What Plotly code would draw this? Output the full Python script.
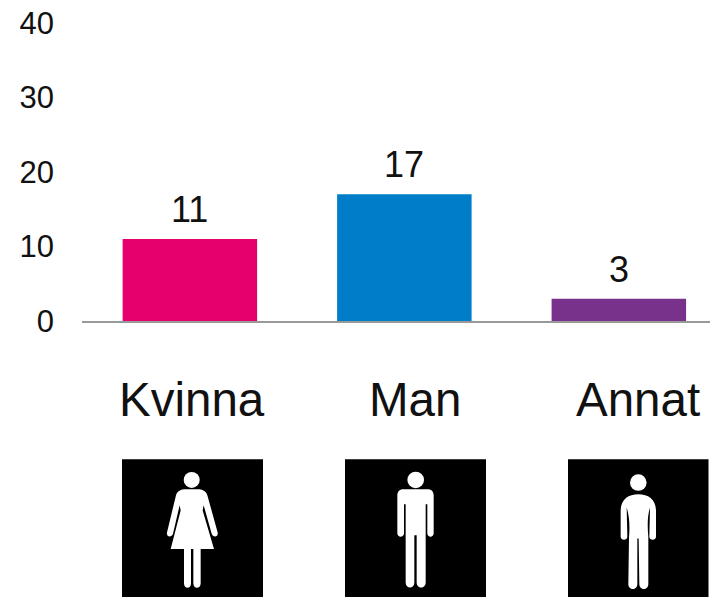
import re
import plotly.graph_objects as go

categories = ["Kvinna", "Man", "Annat"]
values = [11, 17, 3]
bar_colors = ["#E6006E", "#007DC8", "#78328C"]
tick_values = [0, 10, 20, 30, 40]
label_x_px = [192, 415, 638]

W, H = 710, 598
L, T, B = 82, 23, 276.5
TEXT = "#111111"
FONT = "Liberation Sans, Arial, sans-serif"
PW, PH = W - L, H - T - B


def px(x):
    return (x - L) / PW


def py(y):
    return (H - B - y) / PH


def icon_path(d, ox, oy):
    """Convert an outline drawn on a 3x pixel grid to paper coordinates."""
    def conv(m):
        x = ox + float(m.group(1)) / 3
        y = oy + float(m.group(2)) / 3
        return f"{px(x):.5f},{py(y):.5f}"
    return re.sub(r"(-?[\d.]+) (-?[\d.]+)", conv, d)


woman = [
    "M 228 120 L 262 120 C 278 120 288 126 292 138 L 323 250 C 326 264 309 266 305 254 L 281 168 L 278 184 "
    "L 312 300 L 182 300 L 212 184 L 209 168 L 189 254 C 185 266 168 264 171 250 L 198 138 C 202 126 212 120 228 120 Z",
    "M 222 298 L 243 298 L 243 403 C 243 420 222 420 222 403 Z",
    "M 250 298 L 272 298 L 272 403 C 272 420 250 420 250 403 Z",
]
man = [
    "M 205 120 L 278 120 C 290 120 296 128 296 140 L 296 252 C 296 266 277 266 277 252 L 277 165 L 272 165 "
    "L 272 400 C 272 420 245 420 245 400 L 245 258 L 238 258 L 238 400 C 238 420 212 420 212 400 L 212 165 "
    "L 207 165 L 207 252 C 207 266 187 266 187 252 L 187 140 C 187 128 193 120 205 120 Z"
]
other = [
    "M 235 135 C 265 135 288 150 288 185 L 288 262 C 288 275 268 275 268 262 L 270 175 C 262 200 262 230 265 265 "
    "L 265 405 C 265 425 238 425 238 405 L 236 268 L 232 268 L 232 405 C 232 425 205 425 205 405 L 207 265 "
    "C 210 230 208 200 200 175 L 202 262 C 202 275 182 275 182 262 L 182 185 C 182 150 205 135 235 135 Z"
]

icons = [
    dict(box=(122, 263), parts=woman, origin=(110, 450), head=(191.7, 480.7, 8)),
    dict(box=(345, 486), parts=man, origin=(335, 450), head=(415.7, 480.7, 8.3)),
    dict(box=(568, 708.5), parts=other, origin=(560, 450), head=(638.3, 483.3, 8.3)),
]

shapes = []
for ic in icons:
    shapes.append(dict(type="rect", xref="paper", yref="paper", x0=px(ic["box"][0]), x1=px(ic["box"][1]),
                       y0=py(598), y1=py(460), fillcolor="#000000", line_width=0, layer="above"))
    for part in ic["parts"]:
        shapes.append(dict(type="path", xref="paper", yref="paper", path=icon_path(part, *ic["origin"]),
                           fillcolor="#FFFFFF", line_width=0, layer="above"))
    cx, cy, r = ic["head"]
    shapes.append(dict(type="circle", xref="paper", yref="paper", x0=px(cx - r), x1=px(cx + r),
                       y0=py(cy + r), y1=py(cy - r), fillcolor="#FFFFFF", line_width=0, layer="above"))

annotations = []
for i, v in enumerate(values):
    annotations.append(dict(x=i, y=v, xref="x", yref="y", text=str(v), showarrow=False, yanchor="bottom",
                            yshift=7, font=dict(family=FONT, size=36, color=TEXT)))
for name, x in zip(categories, label_x_px):
    annotations.append(dict(x=px(x), y=py(400), xref="paper", yref="paper", text=name, showarrow=False,
                            xanchor="center", yanchor="middle", font=dict(family=FONT, size=47.5, color=TEXT)))

fig = go.Figure(go.Bar(x=list(range(len(values))), y=values, width=0.627, marker=dict(color=bar_colors, line_width=0),
                       hoverinfo="skip"))
fig.update_layout(
    width=W, height=H, autosize=False, showlegend=False,
    paper_bgcolor="#FFFFFF", plot_bgcolor="#FFFFFF",
    margin=dict(l=L, r=0, t=T, b=B, pad=0, autoexpand=False),
    shapes=shapes, annotations=annotations,
    xaxis=dict(range=[-0.503, 2.425], showgrid=False, showticklabels=False, ticks="", zeroline=False,
               showline=True, linecolor="#999999", linewidth=2),
    yaxis=dict(range=[0, 40], tickvals=tick_values, showgrid=False, zeroline=False, showline=False, ticks="",
               ticklabelstandoff=27, tickfont=dict(family=FONT, size=31, color=TEXT)),
)
fig.write_html("out.html", config=dict(displayModeBar=False),
               post_script="document.body.style.margin='0';document.documentElement.style.overflow='hidden';")
